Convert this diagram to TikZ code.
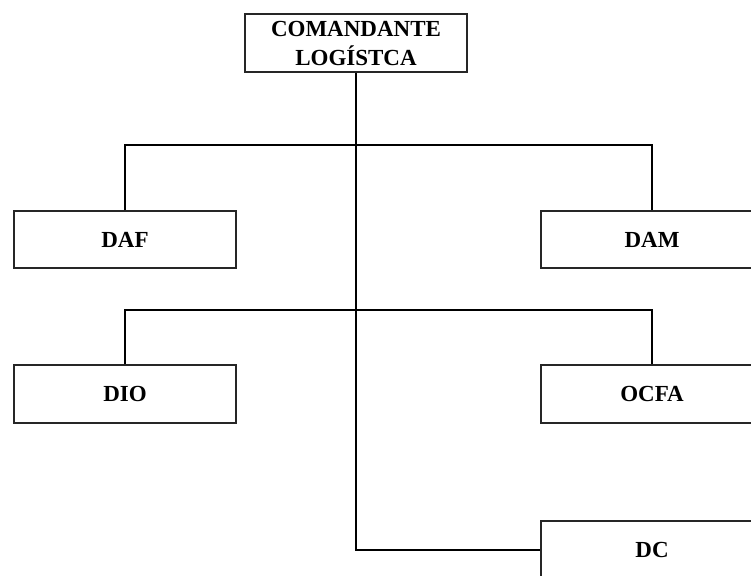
\documentclass[tikz,border=0pt]{standalone}
\usepackage{fontspec}
\setmainfont{Liberation Serif}
\begin{document}
\begin{tikzpicture}[x=1pt,y=-1pt,
  box/.style={draw=black!85,line width=1.5pt,rectangle,minimum width=222pt,minimum height=57pt,
    inner sep=0pt,font=\fontsize{23}{29}\selectfont\bfseries,align=center},
  conn/.style={draw=black,line width=2pt}]
\useasboundingbox (0,0) rectangle (751,575);
\fill[white] (0,0) rectangle (751,575);
\clip (0,0) rectangle (751,575);
\node[box,minimum height=58pt] (top) at (356,43) {COMANDANTE\\LOGÍSTCA};
\node[box] (daf) at (125,239.5) {DAF};
\node[box] (dam) at (652,239.5) {DAM};
\node[box,minimum height=58pt] (dio) at (125,394) {DIO};
\node[box,minimum height=58pt] (ocfa) at (652,394) {OCFA};
\node[box,minimum height=58pt] (dc) at (652,550) {DC};
\coordinate (b1) at (356,145);
\coordinate (b2) at (356,310);
\draw[conn] (top.south) -- (top.south |- dc.west) -- (dc.west);
\draw[conn] (daf.north) |- (b1) -| (dam.north);
\draw[conn] (dio.north) |- (b2) -| (ocfa.north);
\end{tikzpicture}
\end{document}
